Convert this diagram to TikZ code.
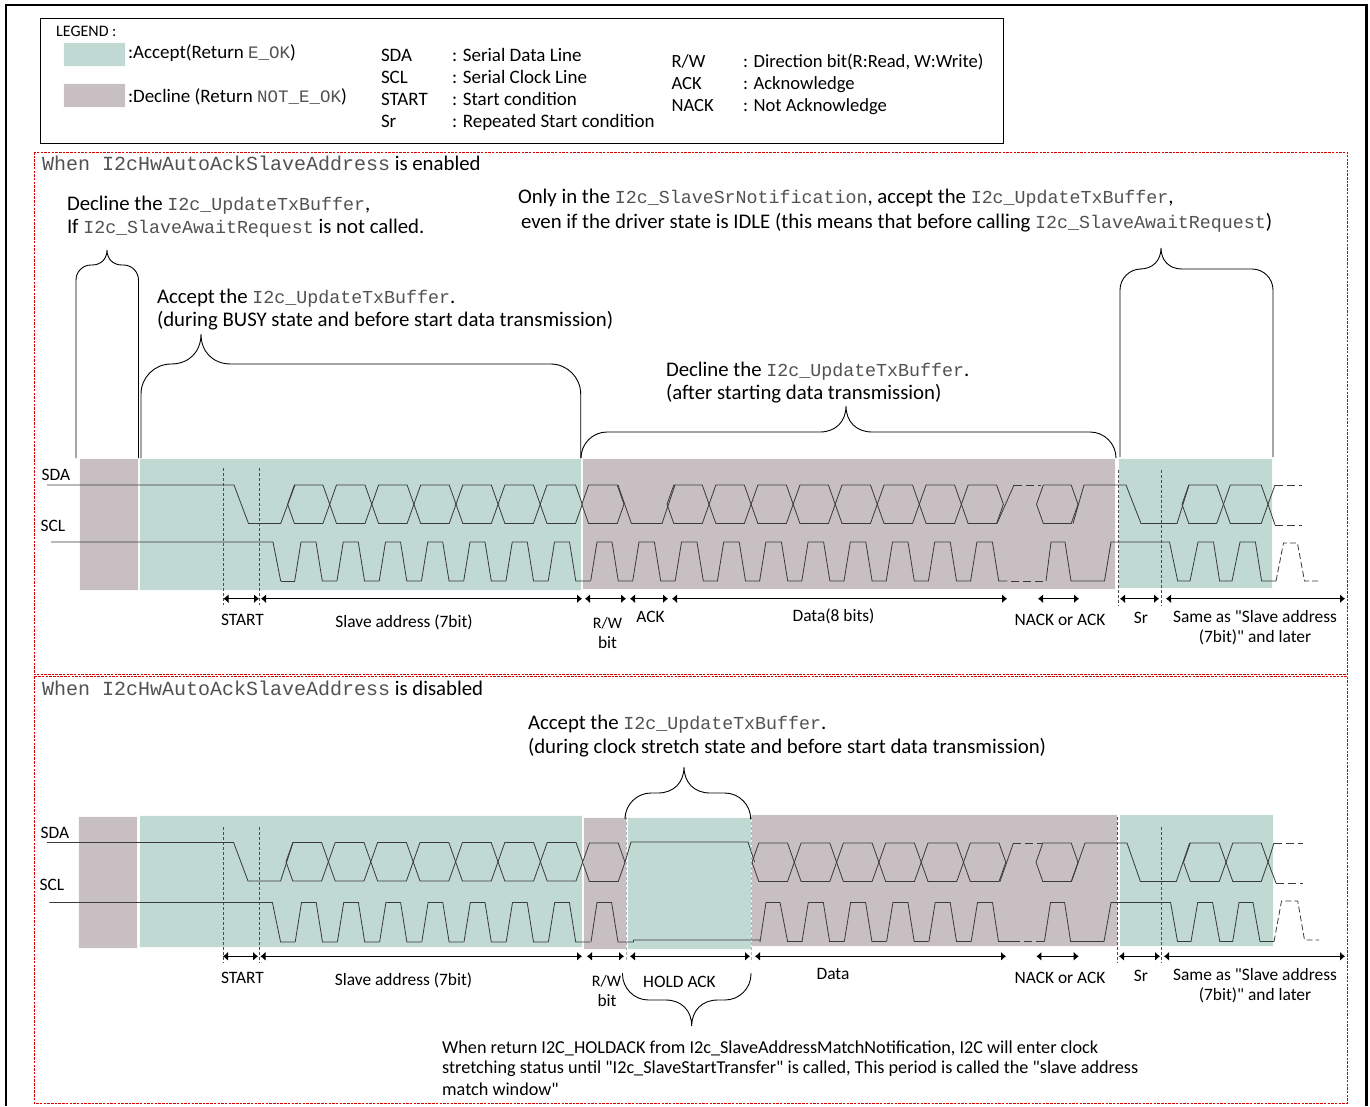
\documentclass[tikz,border=0pt]{standalone}
\usepackage{fontspec}
\setmainfont{Carlito}
\newfontfamily\plainfam{Carlito}
\newfontfamily\codefont{Liberation Mono}
\usetikzlibrary{arrows.meta}
\definecolor{acceptc}{HTML}{C1D9D3}
\definecolor{declinec}{HTML}{C8BFC3}
\definecolor{sigc}{HTML}{3A3A3A}
\newcommand{\code}[2][18.3]{{\codefont\fontsize{#1}{#1}\selectfont\color{black!68}#2}}
\newcommand{\txt}[1]{\plainfam\fontsize{#1}{#1}\selectfont}
\tikzset{
  x=1pt,y=-1pt,
  accept/.style={fill=acceptc,draw=white!90!acceptc,line width=0.8pt},
  decline/.style={fill=declinec,draw=white!90!declinec,line width=0.8pt},
  signal/.style={draw=sigc,line width=0.8pt,line join=miter},
  sigdash/.style={signal,dash pattern=on 8pt off 4pt},
  guide/.style={draw=black!70,line width=0.7pt,dash pattern=on 3pt off 2pt},
  guidefaint/.style={draw=black!30,line width=0.7pt,dash pattern=on 3pt off 2pt},
  brc/.style={draw=black,line width=0.9pt},
  dimline/.style={draw=black,line width=0.9pt,{Latex[length=5pt,width=9pt]}-{Latex[length=5pt,width=9pt]}},
  redbox/.style={draw=red!85!black,line width=0.7pt,dash pattern=on 2.5pt off 1.2pt},
  main/.style={anchor=base west,inner sep=0pt,outer sep=0pt,font=\txt{20.8},text=black},
  leg/.style={anchor=base west,inner sep=0pt,outer sep=0pt,font=\txt{19},text=black},
  legb/.style={anchor=base west,inner sep=0pt,outer sep=0pt,font=\txt{18.6},text=black},
  lab/.style={anchor=base,inner sep=0pt,outer sep=0pt,font=\txt{17.4},text=black},
}
% name, x1, x2, y
\newcommand{\dimarr}[4]{\coordinate (#1a) at (#2,#4); \coordinate (#1b) at (#3,#4); \draw[dimline] (#1a) -- (#1b);}
% left, right, tipx, tipy, shouldery, bottom
\newcommand{\bracket}[6]{%
  \pgfmathsetmacro{\bd}{#5-(#4)}\pgfmathsetmacro{\ba}{abs(\bd)}%
  \draw[brc] (#1,#6) -- (#1,#5+\bd)
   .. controls (#1,#5+0.45*\bd) and (#1+0.45*\ba,#5) .. (#1+\ba,#5)
   -- (#3-\ba,#5)
   .. controls (#3-0.4*\ba,#5) and (#3,#5-0.4*\bd) .. (#3,#4)
   .. controls (#3,#5-0.4*\bd) and (#3+0.4*\ba,#5) .. (#3+\ba,#5)
   -- (#2-\ba,#5)
   .. controls (#2-0.45*\ba,#5) and (#2,#5+0.45*\bd) .. (#2,#5+\bd)
   -- (#2,#6);}
% hexagon: left vertex, right vertex, hi, lo
\newcommand{\hex}[4]{%
  \pgfmathsetmacro{\hm}{(#3+#4)/2}%
  \draw[signal] (#1,\hm) -- (#1+6.8,#3) -- (#2-6.8,#3) -- (#2,\hm) -- (#2-6.8,#4) -- (#1+6.8,#4) -- cycle;}
% scl pulse: hi start, hi end, hi, lo: rise from lo, fall to lo
\newcommand{\pulse}[4]{\draw[signal] (#1-6.3,#4) -- (#1,#3) -- (#2,#3) -- (#2+6.3,#4) -- (#2+20.8,#4);}
\begin{document}
\begin{tikzpicture}
\useasboundingbox (0,0) rectangle (1370,1106);
\fill[white] (0,0) rectangle (1370,1106);
% outer frame
\draw[black,line width=2.2pt] (6,1106) -- (6,5) -- (1366.5,5) -- (1366.5,1106);
% legend
\draw[black,line width=0.9pt] (40,18.5) rectangle (1003,143);
\node[anchor=base west,inner sep=0pt,font=\txt{16}] (tleg) at (56,36) {LEGEND :};
\fill[accept] (63,42) rectangle (125.5,66);
\fill[decline] (63,83) rectangle (125.5,107);
\node[leg] (la1) at (128,58) {:Accept(Return \code[17.5]{E\_OK})};
\node[leg] (la2) at (128,102) {:Decline (Return \code[17.5]{NOT\_E\_OK})};
\node[leg] (k1) at (381,61) {SDA};
\node[leg] (k2) at (381,83) {SCL};
\node[leg] (k3) at (381,105) {START};
\node[leg] (k4) at (381,127) {Sr};
\node[leg] (v1) at (452,61) {: Serial Data Line};
\node[leg] (v2) at (452,83) {: Serial Clock Line};
\node[leg] (v3) at (452,105) {: Start condition};
\node[leg] (v4) at (452,127) {: Repeated Start condition};
\node[legb] (k5) at (671.5,67) {R/W};
\node[legb] (k6) at (671.5,89) {ACK};
\node[legb] (k7) at (671.5,111) {NACK};
\node[legb] (v5) at (743,67) {: Direction bit(R:Read, W:Write)};
\node[legb] (v6) at (743,89) {: Acknowledge};
\node[legb] (v7) at (743,111) {: Not Acknowledge};
% red boxes
\draw[redbox] (34,152) rectangle (1347.5,674.5);
\draw[redbox] (34,676) rectangle (1347.5,1103);
\node[main] (h1) at (42,170) {\code[20]{When I2cHwAutoAckSlaveAddress} is enabled};
\node[main] (h2) at (42,695) {\code[20]{When I2cHwAutoAckSlaveAddress} is disabled};
% ---------- top timing ----------
\fill[decline] (79,458) rectangle (138,590);
\fill[accept] (139.5,458) rectangle (581,590);
\fill[decline] (582,458) rectangle (1115,589);
\fill[accept] (1118,458) rectangle (1272,588);
\draw[guide] (223,468) -- (223,605);
\draw[guide] (259.5,468) -- (259.5,605);
\draw[guide] (1118,470) -- (1118,606);
\draw[guide] (1161,470) -- (1161,606);
% SDA
\draw[signal] (47,485) -- (234,485) -- (248.5,523.5) -- (280.7,523.5) -- (295,485);
\foreach \i in {0,...,6} {\pgfmathsetmacro{\xa}{287.6+42.1*\i}\pgfmathsetmacro{\xb}{\xa+42.1}\hex{\xa}{\xb}{485}{523.5}}
\hex{581.8}{624}{485}{523.5}
\draw[signal] (618,485) -- (631.4,523.5) -- (662,523.5) -- (675,485);
\foreach \i in {0,...,7} {\pgfmathsetmacro{\xa}{667+42.05*\i}\pgfmathsetmacro{\xb}{\xa+42.05}\hex{\xa}{\xb}{485}{523.5}}
\draw[signal] (997,523.5) -- (1014,485);
\draw[sigdash] (1014,485) -- (1041,485);
\hex{1036.5}{1078}{485}{523.5}
\draw[signal] (1073,523.5) -- (1084,485) -- (1126,485) -- (1141,523.5) -- (1177,523.5) -- (1189,485);
\hex{1182}{1223.5}{485}{523.5}
\hex{1223.5}{1268}{485}{523.5}
\draw[signal] (1268,504.2) -- (1275,485);
\draw[signal] (1268,504.2) -- (1275,525);
\draw[sigdash] (1275,485) -- (1302,485);
\draw[sigdash] (1275,525) -- (1302,525);
% SCL
\draw[signal] (51,542) -- (273,542) -- (280.7,581);
\draw[signal] (280.7,581) -- (294.8,581);
\foreach \i in {0,...,6} {\pgfmathsetmacro{\xa}{301+42.25*\i}\pgfmathsetmacro{\xb}{\xa+15}\pulse{\xa}{\xb}{542}{581}}
\pulse{597}{612}{542}{581}
\pulse{639}{654.4}{542}{581}
\foreach \i in {0,...,7} {\pgfmathsetmacro{\xa}{681.5+42.2*\i}\pgfmathsetmacro{\xb}{\xa+15.5}\ifnum\i<7 \pulse{\xa}{\xb}{542}{581}\else\draw[signal] (\xa-6.3,581) -- (\xa,542) -- (\xb,542) -- (\xb+6.3,581) -- (\xb+15,581);\fi}
\draw[sigdash] (1011,581.5) -- (1046,581.5);
\draw[signal] (1046,581) -- (1051,542) -- (1065,542) -- (1071,581) -- (1104.5,581) -- (1111,542) -- (1169.5,542) -- (1177.7,581) -- (1190,581) -- (1198,542) -- (1213.5,542) -- (1219.6,581) -- (1232,581) -- (1240,542) -- (1255.4,542) -- (1261.6,581) -- (1276,581);
\draw[signal,dash pattern=on 6pt off 3pt] (1276,581) -- (1283.5,543) -- (1297.4,543) -- (1304.5,581) -- (1319,581);
% dims
\dimarr{ta}{223.5}{259}{598.7}
\dimarr{tb}{261}{582}{598.7}
\dimarr{tc}{585}{626}{598.7}
\dimarr{td}{630}{668}{598.7}
\dimarr{te}{672}{1007}{598.7}
\dimarr{tf}{1038}{1079}{598.7}
\dimarr{tg}{1120}{1159}{598.7}
\dimarr{th}{1166}{1345}{598.7}
\node[lab] (n1) at (242.5,625) {START};
\node[lab] (n2) at (404,627) {Slave address (7bit)};
\node[lab,font=\txt{16}] (n3) at (607.5,628) {R/W};
\node[lab] (n3b) at (607.5,648) {bit};
\node[lab] (n4) at (650.5,622) {ACK};
\node[lab] (n5) at (833.5,621) {Data(8 bits)};
\node[lab] (n6) at (1060,625) {NACK or ACK};
\node[lab] (n7) at (1141,623) {Sr};
\node[lab] (n8) at (1255,622) {Same as "Slave address};
\node[lab] (n8b) at (1255,642) {(7bit)" and later};
% braces top
\bracket{76}{138.5}{107}{250}{265}{458}
\bracket{141}{580.7}{201}{334}{364}{458}
\bracket{581}{1116}{846}{406}{432}{457}
\bracket{1120}{1273}{1161}{248}{269}{457}
\node[main] (a1) at (67,210) {Decline the \code{I2c\_UpdateTxBuffer},};
\node[main] (a2) at (67,233) {If \code{I2c\_SlaveAwaitRequest} is not called.};
\node[main] (a3) at (518,203) {Only in the \code{I2c\_SlaveSrNotification}, accept the \code{I2c\_UpdateTxBuffer},};
\node[main] (a4) at (521,228) {even if the driver state is IDLE (this means that before calling \code{I2c\_SlaveAwaitRequest})};
\node[main] (a5) at (157,303) {Accept the \code{I2c\_UpdateTxBuffer}.};
\node[main] (a6) at (157,326) {(during BUSY state and before start data transmission)};
\node[main] (a7) at (666,376) {Decline the \code{I2c\_UpdateTxBuffer}.};
\node[main] (a8) at (666,399) {(after starting data transmission)};
% ---------- bottom timing ----------
\fill[decline] (78.5,816) rectangle (137.6,948);
\fill[accept] (139,815) rectangle (582.6,947);
\fill[decline] (583.5,817) rectangle (626,949);
\fill[accept] (627,817) rectangle (751,949);
\fill[decline] (751,814) rectangle (1117,946);
\fill[accept] (1119.4,814) rectangle (1273,946);
\draw[guide] (223,827) -- (223,963);
\draw[guide] (259,827) -- (259,963);
\draw[guidefaint] (626,817) -- (626,962);
\draw[guidefaint] (751,817) -- (751,962);
\draw[guide] (1117,817) -- (1117,963);
\draw[guide] (1161.4,827) -- (1161.4,963);
% SDA
\draw[signal] (47,842.5) -- (233.6,842.5) -- (248,881) -- (280.6,881) -- (293,842.5);
\foreach \i in {0,...,6} {\pgfmathsetmacro{\xa}{286+42.4*\i}\pgfmathsetmacro{\xb}{\xa+42.4}\hex{\xa}{\xb}{842.5}{881}}
\hex{582.6}{625}{843}{881.5}
\draw[signal] (625,862) -- (631,842) -- (748,842) -- (754.6,862);
\foreach \i in {0,...,5} {\pgfmathsetmacro{\xa}{752+42.3*\i}\pgfmathsetmacro{\xb}{\xa+42.3}\hex{\xa}{\xb}{843}{881.5}}
\draw[signal] (1000,881.5) -- (1013.4,843);
\draw[sigdash] (1013.4,843) -- (1042,843);
\hex{1036}{1078}{843}{881.5}
\draw[signal] (1071.5,881.5) -- (1085,843) -- (1127,843) -- (1140.4,881.5) -- (1176.3,881.5) -- (1189.6,843);
\hex{1183.5}{1226}{843}{881.5}
\hex{1226}{1268}{843}{881.5}
\draw[signal] (1268,862) -- (1274,843);
\draw[signal] (1268,862) -- (1276,883);
\draw[sigdash] (1274,843) -- (1302.5,843);
\draw[sigdash] (1276,883) -- (1302.5,883);
% SCL
\draw[signal] (49.4,902.5) -- (272.4,902.5) -- (280.6,942) -- (295.2,942);
\foreach \i in {0,...,6} {\pgfmathsetmacro{\xa}{301.5+42.2*\i}\pgfmathsetmacro{\xb}{\xa+14.7}\pulse{\xa}{\xb}{902.5}{942}}
\draw[signal] (591,942) -- (597,902.5) -- (611.6,902.5) -- (618,942) -- (633.5,942) -- (633.5,940) -- (760,940) -- (760,942) -- (766,902.5) -- (780,902.5) -- (787.6,941.5) -- (802.5,941.5);
\foreach \i in {1,...,5} {\pgfmathsetmacro{\xa}{766+42.3*\i}\pgfmathsetmacro{\xb}{\xa+15}\ifnum\i<5 \pulse{\xa}{\xb}{902.5}{941.5}\else\draw[signal] (\xa-6.3,941.5) -- (\xa,902.5) -- (\xb,902.5) -- (\xb+6,941.5) -- (1012,941.5);\fi}
\draw[sigdash] (1012,941.5) -- (1044.4,941.5);
\draw[signal] (1044.4,941.5) -- (1050.5,902.5) -- (1064.6,902.5) -- (1070.6,941.5) -- (1104,941.5) -- (1111,902.5) -- (1170.6,902.5) -- (1177.5,941.5) -- (1191,941.5) -- (1197.7,902.5) -- (1212.6,902.5) -- (1219.8,941.5) -- (1232.7,941.5) -- (1239,902.5) -- (1253,902.5) -- (1260,941.5) -- (1274,941.5);
\draw[signal,dash pattern=on 6pt off 3pt] (1274,941.5) -- (1281.5,901) -- (1297.7,901) -- (1304.5,940) -- (1319,940);
% dims
\dimarr{ba}{223}{258}{956.3}
\dimarr{bb}{260.5}{582}{956.3}
\dimarr{bc}{587}{624}{956.3}
\dimarr{bd}{630}{750}{956.3}
\dimarr{be}{755}{1006}{956.3}
\dimarr{bf}{1036.4}{1078.7}{956.3}
\dimarr{bg}{1119}{1160}{956.3}
\dimarr{bh}{1164}{1345}{956.3}
\node[lab] (m1) at (242.5,983) {START};
\node[lab] (m2) at (403.5,985) {Slave address (7bit)};
\node[lab,font=\txt{16}] (m3) at (606.5,986) {R/W};
\node[lab] (m3b) at (607,1006) {bit};
\node[lab] (m4) at (679.5,987) {HOLD ACK};
\node[lab] (m5) at (833,979) {Data};
\node[lab] (m6) at (1060,983) {NACK or ACK};
\node[lab] (m7) at (1141,981) {Sr};
\node[lab] (m8) at (1255,980) {Same as "Slave address};
\node[lab] (m8b) at (1255,1000) {(7bit)" and later};
% braces bottom
\bracket{625}{750.7}{684}{767}{793}{816}
\bracket{622.5}{751}{691.7}{1026}{1000}{973}
\node[main] (c1) at (528,729) {Accept the \code{I2c\_UpdateTxBuffer}.};
\node[main] (c2) at (528,753) {(during clock stretch state and before start data transmission)};
\node[anchor=base west,inner sep=0pt,font=\txt{18.2}] (c3) at (442,1053) {When return I2C\_HOLDACK from I2c\_SlaveAddressMatchNotification, I2C will enter clock};
\node[anchor=base west,inner sep=0pt,font=\txt{18.2}] (c4) at (442,1073) {stretching status until "I2c\_SlaveStartTransfer" is called, This period is called the "slave address};
\node[anchor=base west,inner sep=0pt,font=\txt{18.2}] (c5) at (442,1095) {match window"};
% signal names
\node[lab] (s1) at (56,480) {SDA};
\node[lab] (s2) at (53,531) {SCL};
\node[lab] (s3) at (55,838) {SDA};
\node[lab] (s4) at (52,890) {SCL};
\end{tikzpicture}
\end{document}
